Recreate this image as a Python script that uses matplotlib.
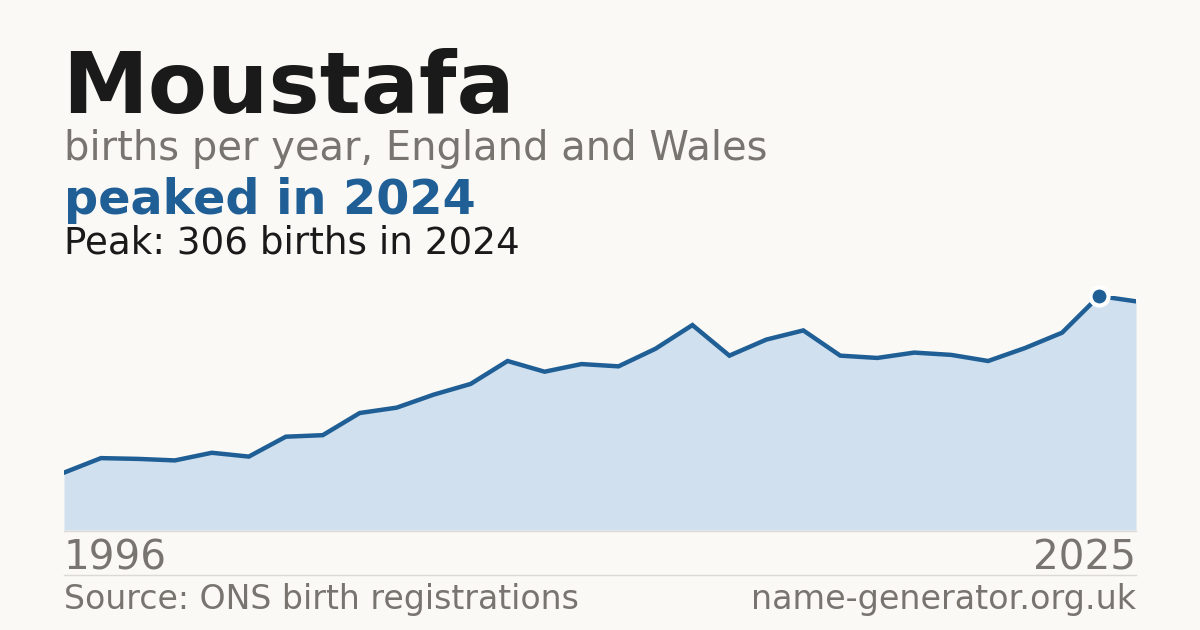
import numpy as np
import matplotlib.pyplot as plt

# data
years = list(range(1996, 2026))
births = [75, 94, 93, 91, 101, 96, 122, 124, 153, 160,
          177, 191, 221, 207, 217, 214, 237, 268, 228, 249,
          261, 228, 225, 232, 229, 221, 238, 258, 306, 299]
name = "Moustafa"
subtitle = "births per year, England and Wales"
headline = "peaked in 2024"
peak_note = "Peak: 306 births in 2024"
source = "Source: ONS birth registrations"
site = "name-generator.org.uk"

bg = "#faf9f5"
blue = "#1f5f96"
fill = "#d0e0ef"
grey = "#787570"

W, H = 1200, 630
fig = plt.figure(figsize=(W / 100, H / 100), dpi=100, facecolor=bg)

def px(x, y):
    # pixel coords (top-left origin) -> figure fraction
    return x / W, 1 - y / H

ax = fig.add_axes([64 / W, 100 / H, 1072 / W, 234 / H])
ax.set_facecolor(bg)
ax.fill_between(years, births, 0, color=fill, lw=0)
ax.plot(years, births, color=blue, lw=3.2, solid_joinstyle="miter")
pk = int(np.argmax(births))
ax.plot(years[pk], births[pk], "o", ms=13, mfc=blue, mec="white", mew=3,
        clip_on=False, zorder=5)
ax.set_xlim(years[0], years[-1])
ax.set_ylim(0, max(births))
ax.axis("off")

# thin rules
fig.add_artist(plt.Line2D([64 / W, 1136 / W], [1 - 530.5 / H] * 2, color="#dcdad5", lw=1))
fig.add_artist(plt.Line2D([64 / W, 1136 / W], [1 - 574.5 / H] * 2, color="#dcdad5", lw=1))

fig.text(*px(62, 113), name, fontsize=62, fontweight="bold", color="#1a1a1a", va="baseline")
fig.text(*px(64, 160), subtitle, fontsize=28.8, color=grey, va="baseline")
fig.text(*px(64, 214), headline, fontsize=34.4, fontweight="bold", color=blue, va="baseline")
fig.text(*px(64, 253), peak_note, fontsize=26.8, color="#1a1a1a", va="baseline")

fig.text(*px(64, 569), str(years[0]), fontsize=29.2, color=grey, va="baseline")
fig.text(*px(1136, 569), str(years[-1]), fontsize=29.2, color=grey, va="baseline", ha="right")
fig.text(*px(64, 609), source, fontsize=23.9, color=grey, va="baseline")
fig.text(*px(1136, 609), site, fontsize=24, color=grey, va="baseline", ha="right")

fig.savefig("out.png", dpi=100, facecolor=bg)
